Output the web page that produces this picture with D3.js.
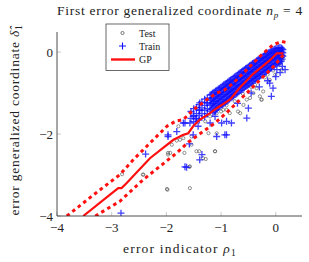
<!DOCTYPE html>
<meta charset="utf-8">
<html>
  <head>
    <style>
     body { margin: 0; background: #fff; }
     text { font-family: "Liberation Serif", "DejaVu Serif", serif; fill: #222; }
     text.tick { font-size: 13px; }
     text.label { font-size: 13.5px; }
     text.title { font-size: 13.5px; }
     text.legend { font-size: 10px; }
    </style>
    <script src="https://d3js.org/d3.v7.min.js"></script>
  </head>
  <body>
    <div id="chart"></div>
    <script type="text/javascript">
     // GP mean and confidence bounds
     var gpMean = [[-3.52,-4.0],[-3.03,-3.48],[-2.88,-3.32],[-2.82,-3.32],[-2.73,-3.20],[-2.30,-2.59],
                   [-2.06,-2.34],[-1.87,-2.14],[-1.69,-2.02],[-1.60,-1.98],[-1.51,-1.81],[-1.39,-1.65],
                   [-1.20,-1.49],[-1.08,-1.37],[-0.84,-1.16],[-0.65,-0.86],[-0.41,-0.53],[-0.10,-0.19],
                   [0.02,-0.03],[0.14,-0.03]];
     var gpUpper = [[-3.82,-4.0],[-3.30,-3.45],[-2.85,-2.99],[-2.60,-2.62],[-2.30,-2.22],[-1.99,-1.81],
                    [-1.82,-1.68],[-1.69,-1.65],[-1.51,-1.41],[-1.26,-1.16],[-1.08,-1.00],[-0.93,-0.92],
                    [-0.78,-0.76],[-0.59,-0.51],[-0.44,-0.31],[-0.26,-0.07],[-0.05,0.18],[0.11,0.26],[0.20,0.23]];
     var gpLower = [[-3.30,-4.0],[-2.85,-3.64],[-2.42,-3.11],[-2.12,-2.79],[-1.81,-2.46],[-1.60,-2.20],
                    [-1.33,-1.94],[-1.11,-1.73],[-0.90,-1.48],[-0.65,-1.16],[-0.35,-0.76],[-0.04,-0.35],[0.17,-0.02]];

     // Train points (+), the scattered ones
     var trainRho = [-2.83,-1.63,-1.35,-2.38,-1.97,-1.58,-1.08,-0.90,-1.46,-1.66,-1.42,-1.20,-1.11,-0.81,-0.53,-0.50,
                     -0.11,-0.05,-0.08,0.00,0.02,0.17,-1.14,-1.39,-1.26,-0.93,-1.51,-1.66,-1.39,-0.99,-0.90,-1.81,
                     -1.69,-1.57,-1.97,-1.51,-1.39,-0.70,-0.45,-0.30,-0.15,0.08,0.12];
     var trainDelta = [-3.93,-2.81,-2.50,-2.49,-2.06,-2.24,-2.06,-2.02,-1.63,-1.73,-1.81,-1.73,-1.57,-1.73,-1.61,-1.37,
                       -0.76,-0.88,-1.08,-0.60,-0.43,-0.43,-1.20,-1.24,-1.24,-2.02,-2.02,-2.80,-2.63,-1.73,-1.69,-1.94,
                       -1.73,-1.73,-2.02,-1.57,-1.41,-1.25,-1.00,-0.85,-0.70,-0.50,-0.35];

     // Train points (+), the dense band along the diagonal
     var bandRho = [-1.55,-1.55,-1.50,-1.50,-1.50,-1.45,-1.45,-1.45,-1.40,-1.40,-1.40,-1.40,-1.35,-1.35,-1.35,
                    -1.30,-1.30,-1.30,-1.30,-1.25,-1.25,-1.25,-1.25,-1.20,-1.20,-1.20,-1.20,
                    -1.15,-1.15,-1.15,-1.15,-1.15,-1.10,-1.10,-1.10,-1.10,-1.10,-1.05,-1.05,-1.05,-1.05,-1.05,
                    -1.00,-1.00,-1.00,-1.00,-1.00,-0.95,-0.95,-0.95,-0.95,-0.95,-0.90,-0.90,-0.90,-0.90,-0.90,
                    -0.85,-0.85,-0.85,-0.85,-0.85,-0.80,-0.80,-0.80,-0.80,-0.80,-0.75,-0.75,-0.75,-0.75,-0.75,
                    -0.70,-0.70,-0.70,-0.70,-0.70,-0.65,-0.65,-0.65,-0.65,-0.65,-0.60,-0.60,-0.60,-0.60,-0.60,
                    -0.55,-0.55,-0.55,-0.55,-0.55,-0.50,-0.50,-0.50,-0.50,-0.50,-0.45,-0.45,-0.45,-0.45,-0.45,
                    -0.40,-0.40,-0.40,-0.40,-0.40,-0.35,-0.35,-0.35,-0.35,-0.35,-0.30,-0.30,-0.30,-0.30,-0.30,
                    -0.25,-0.25,-0.25,-0.25,-0.25,-0.20,-0.20,-0.20,-0.20,-0.20,-0.15,-0.15,-0.15,-0.15,-0.15,
                    -0.10,-0.10,-0.10,-0.10,-0.10,-0.05,-0.05,-0.05,-0.05,-0.05,0.00,0.00,0.00,0.00,0.00,
                    0.05,0.05,0.05,0.05,0.05,0.10,0.10,0.10,0.10,0.10,0.13,0.13,0.13,
                    -1.175,-1.175,-1.175,-1.175,-1.125,-1.125,-1.125,-1.125,-1.125,-1.075,-1.075,-1.075,-1.075,-1.075,
                    -1.025,-1.025,-1.025,-1.025,-1.025,-0.975,-0.975,-0.975,-0.975,-0.975,-0.925,-0.925,-0.925,-0.925,-0.925,
                    -0.875,-0.875,-0.875,-0.875,-0.875,-0.825,-0.825,-0.825,-0.825,-0.825,-0.775,-0.775,-0.775,-0.775,-0.775,
                    -0.725,-0.725,-0.725,-0.725,-0.725,-0.675,-0.675,-0.675,-0.675,-0.675,-0.625,-0.625,-0.625,-0.625,-0.625,
                    -0.575,-0.575,-0.575,-0.575,-0.575,-0.525,-0.525,-0.525,-0.525,-0.525,-0.475,-0.475,-0.475,-0.475,-0.475,
                    -0.425,-0.425,-0.425,-0.425,-0.425,-0.375,-0.375,-0.375,-0.375,-0.375,-0.325,-0.325,-0.325,-0.325,-0.325,
                    -0.275,-0.275,-0.275,-0.275,-0.275,-0.225,-0.225,-0.225,-0.225,-0.225,-0.175,-0.175,-0.175,-0.175,-0.175,
                    -0.125,-0.125,-0.125,-0.125,-0.125,-0.075,-0.075,-0.075,-0.075,-0.075,-0.025,-0.025,-0.025,-0.025,-0.025,
                    0.025,0.025,0.025,0.025,0.025,0.075,0.075,0.075,0.075,0.075,0.115,0.115,0.115,0.115];
     var bandDelta = [-1.45,-1.62,-1.38,-1.55,-1.70,-1.35,-1.50,-1.62,-1.28,-1.42,-1.55,-1.66,-1.22,-1.36,-1.50,
                      -1.15,-1.30,-1.42,-1.58,-1.12,-1.24,-1.38,-1.50,-1.05,-1.18,-1.30,-1.44,
                      -1.00,-1.12,-1.25,-1.36,-1.48,-0.95,-1.06,-1.18,-1.30,-1.42,-0.90,-1.02,-1.13,-1.25,-1.35,
                      -0.86,-0.97,-1.08,-1.19,-1.30,-0.80,-0.91,-1.03,-1.14,-1.26,-0.76,-0.86,-0.97,-1.08,-1.20,
                      -0.70,-0.81,-0.92,-1.03,-1.15,-0.66,-0.77,-0.88,-0.98,-1.10,-0.60,-0.71,-0.82,-0.93,-1.04,
                      -0.56,-0.67,-0.78,-0.89,-1.00,-0.50,-0.61,-0.72,-0.83,-0.94,-0.46,-0.57,-0.68,-0.79,-0.90,
                      -0.40,-0.51,-0.62,-0.73,-0.84,-0.36,-0.47,-0.58,-0.69,-0.80,-0.31,-0.42,-0.53,-0.64,-0.75,
                      -0.26,-0.37,-0.48,-0.59,-0.70,-0.21,-0.32,-0.43,-0.54,-0.65,-0.16,-0.27,-0.38,-0.49,-0.60,
                      -0.12,-0.22,-0.33,-0.44,-0.55,-0.07,-0.17,-0.28,-0.39,-0.50,-0.03,-0.13,-0.23,-0.34,-0.45,
                      0.01,-0.08,-0.18,-0.29,-0.40,0.05,-0.04,-0.13,-0.24,-0.35,0.08,0.00,-0.09,-0.19,-0.30,
                      0.10,0.02,-0.06,-0.15,-0.26,0.10,0.03,-0.05,-0.13,-0.22,0.06,-0.02,-0.10,
                      -1.03,-1.15,-1.27,-1.40,-0.98,-1.09,-1.21,-1.33,-1.45,-0.93,-1.04,-1.15,-1.27,-1.39,
                      -0.88,-0.99,-1.10,-1.22,-1.33,-0.83,-0.94,-1.05,-1.16,-1.28,-0.78,-0.89,-1.00,-1.11,-1.23,
                      -0.73,-0.84,-0.95,-1.06,-1.18,-0.68,-0.79,-0.90,-1.01,-1.12,-0.63,-0.74,-0.85,-0.96,-1.07,
                      -0.58,-0.69,-0.80,-0.91,-1.02,-0.53,-0.64,-0.75,-0.86,-0.97,-0.48,-0.59,-0.70,-0.81,-0.92,
                      -0.43,-0.54,-0.65,-0.76,-0.87,-0.38,-0.49,-0.60,-0.71,-0.82,-0.33,-0.44,-0.55,-0.66,-0.77,
                      -0.28,-0.39,-0.50,-0.61,-0.72,-0.24,-0.35,-0.46,-0.57,-0.68,-0.19,-0.30,-0.41,-0.52,-0.63,
                      -0.14,-0.25,-0.36,-0.47,-0.58,-0.10,-0.20,-0.31,-0.42,-0.53,-0.05,-0.15,-0.26,-0.37,-0.48,
                      -0.01,-0.11,-0.21,-0.32,-0.43,0.03,-0.06,-0.16,-0.27,-0.38,0.07,-0.02,-0.11,-0.21,-0.32,
                      0.09,0.01,-0.08,-0.17,-0.28,0.11,0.03,-0.05,-0.14,-0.24,0.08,0.00,-0.08,-0.17];

     // Test points (small grey circles)
     var testRho = [-1.99,-1.57,-2.42,-1.57,-1.28,-1.11,-1.40,-1.97,-1.67,-1.54,-0.65,-0.26,-0.41,-0.90,
                    -2.81,-2.43,-1.98,-1.97,-1.81,-0.11,-0.01,-0.23,-0.29,-0.35,-0.47,-0.26,0.11,0.08,0.14,
                    -0.96,-0.84,-0.69,-0.59,-1.08,-1.20,-0.53,-1.29,-1.23,-1.08,-1.45,-1.33,-1.11,-1.54,-1.69,
                    -1.58,-1.75,-1.78,-1.90,-1.93,-0.75,-0.60,-0.45,-0.20,-0.05,0.05,0.12,-0.90,-1.00,-0.38,-0.15];
     var testDelta = [-3.34,-3.32,-2.99,-2.79,-2.61,-2.42,-2.42,-2.50,-2.46,-2.06,-1.49,-1.16,-1.00,-1.41,
                      -2.98,-2.99,-3.36,-2.46,-2.16,-0.68,-0.55,-0.96,-1.08,-0.88,-1.12,-1.16,-0.43,-0.27,-0.11,
                      -1.41,-1.49,-1.45,-1.29,-1.49,-1.57,-1.16,-1.69,-1.98,-1.98,-2.42,-2.59,-2.42,-2.26,-2.10,
                      -2.80,-2.14,-1.81,-2.26,-2.46,-1.20,-1.02,-0.85,-0.62,-0.45,-0.30,-0.20,-1.30,-1.45,-0.80,-0.55];

     var xTicks = [-4, -3, -2, -1, 0],
         yTicks = [-4, -2, 0];

     var width = 309, height = 262,
         margin = { top: 32, right: 7, bottom: 46, left: 57 };

     var svg = d3.select("#chart").append("svg")
                 .attr("width", width)
                 .attr("height", height);

     var x = d3.scaleLinear().domain([-4, 0.48]).range([margin.left, width - margin.right]);
     var y = d3.scaleLinear().domain([-4, 0.49]).range([height - margin.bottom, margin.top]);

     // stretch a text to the width it has in the picture
     function fit(sel, target) {
       var node = sel.node(),
           len = node.getComputedTextLength(),
           n = node.textContent.length;
       sel.style("letter-spacing", ((target - len) / n) + "px");
     }

     svg.append("clipPath").attr("id", "clip")
        .append("rect")
        .attr("x", margin.left).attr("y", margin.top)
        .attr("width", width - margin.right - margin.left)
        .attr("height", height - margin.bottom - margin.top);

     // ticks (light grey, pointing inwards)
     svg.selectAll(".xtick").data(xTicks).enter().append("line")
        .attr("x1", function(d) { return x(d); }).attr("x2", function(d) { return x(d); })
        .attr("y1", y(-4)).attr("y2", y(-4) - 4)
        .style("stroke", "#bbb").style("stroke-width", 0.8);
     svg.selectAll(".ytick").data(yTicks).enter().append("line")
        .attr("x1", x(-4)).attr("x2", x(-4) + 4)
        .attr("y1", function(d) { return y(d); }).attr("y2", function(d) { return y(d); })
        .style("stroke", "#bbb").style("stroke-width", 0.8);

     svg.selectAll(".xlab").data(xTicks).enter().append("text")
        .attr("class", "tick")
        .attr("x", function(d) { return x(d); })
        .attr("y", y(-4) + 15.5)
        .style("text-anchor", "middle")
        .text(function(d) { return d < 0 ? "\u2212" + (-d) : d; });
     svg.selectAll(".ylab").data(yTicks).enter().append("text")
        .attr("class", "tick")
        .attr("x", x(-4) - 4)
        .attr("y", function(d) { return y(d) + 4.5; })
        .style("text-anchor", "end")
        .text(function(d) { return d < 0 ? "\u2212" + (-d) : d; });

     var plot = svg.append("g").attr("clip-path", "url(#clip)");

     var testData = testRho.map(function(d, i) { return [d, testDelta[i]]; });
     var trainData = trainRho.map(function(d, i) { return [d, trainDelta[i]]; })
                       .concat(bandRho.map(function(d, i) { return [d, bandDelta[i]]; }));

     plot.selectAll(".test").data(testData).enter().append("circle")
         .attr("cx", function(d) { return x(d[0]); })
         .attr("cy", function(d) { return y(d[1]); })
         .attr("r", 1.6)
         .style("fill", "none")
         .style("stroke", "#555")
         .style("stroke-width", 0.8)
         .style("opacity", 0.8);

     var plus = "M-3.5,0H3.5M0,-3.5V3.5";
     plot.selectAll(".train").data(trainData).enter().append("path")
         .attr("d", plus)
         .attr("transform", function(d) { return "translate(" + x(d[0]) + "," + y(d[1]) + ")"; })
         .style("fill", "none")
         .style("stroke", "#1010ff")
         .style("stroke-width", 1.3)
         .style("opacity", 0.8);

     var line = d3.line().x(function(d) { return x(d[0]); }).y(function(d) { return y(d[1]); });

     plot.append("path").datum(gpUpper).attr("d", line)
         .style("fill", "none").style("stroke", "#ff1010").style("stroke-width", 3)
         .style("stroke-dasharray", "3.5,3.5");
     plot.append("path").datum(gpLower).attr("d", line)
         .style("fill", "none").style("stroke", "#ff1010").style("stroke-width", 3)
         .style("stroke-dasharray", "3.5,3.5");
     plot.append("path").datum(gpMean).attr("d", line)
         .style("fill", "none").style("stroke", "#ff1010").style("stroke-width", 2.2);

     // axis lines (left and bottom only)
     svg.append("line")
        .attr("x1", x(-4)).attr("x2", x(-4)).attr("y1", y(-4)).attr("y2", margin.top)
        .style("stroke", "#222").style("stroke-width", 0.8);
     svg.append("line")
        .attr("x1", x(-4)).attr("x2", width - margin.right).attr("y1", y(-4)).attr("y2", y(-4))
        .style("stroke", "#222").style("stroke-width", 0.8);

     // legend
     var lg = svg.append("g").attr("transform", "translate(106,24)");
     lg.append("rect").attr("width", 63).attr("height", 46.5)
       .style("fill", "#fff").style("stroke", "#444").style("stroke-width", 0.8);
     lg.append("circle").attr("cx", 16.5).attr("cy", 9).attr("r", 1.6)
       .style("fill", "none").style("stroke", "#555").style("stroke-width", 0.8);
     lg.append("path").attr("d", plus).attr("transform", "translate(16.5,22)")
       .style("fill", "none").style("stroke", "#1010ff").style("stroke-width", 1.1);
     lg.append("line").attr("x1", 5).attr("x2", 29).attr("y1", 35.5).attr("y2", 35.5)
       .style("stroke", "#ff1010").style("stroke-width", 2.4);
     var legendNames = ["Test", "Train", "GP"];
     lg.selectAll(".legend").data(legendNames).enter().append("text")
       .attr("class", "legend")
       .attr("x", 33)
       .attr("y", function(d, i) { return 12.5 + i * 13; })
       .text(function(d) { return d; });

     // title
     var t = svg.append("text").attr("class", "title")
                .attr("x", 180).attr("y", 15).style("text-anchor", "middle");
     t.append("tspan").text("First error generalized coordinate ");
     t.append("tspan").style("font-style", "italic").text("n");
     t.append("tspan").attr("dy", 2.5).style("font-size", "9px").style("font-style", "italic").text("p");
     t.append("tspan").attr("dy", -2.5).text(" = 4");
     fit(t, 246);

     // x label
     var xl = svg.append("text").attr("class", "label")
                 .attr("x", 180).attr("y", 253).style("text-anchor", "middle");
     xl.append("tspan").text("error indicator ");
     xl.append("tspan").style("font-style", "italic").text("\u03c1");
     xl.append("tspan").attr("dy", 3).style("font-size", "9.5px").text("1");
     fit(xl, 114);

     // y label
     var yl = svg.append("text").attr("class", "label")
                 .attr("transform", "translate(19,120) rotate(-90)")
                 .style("text-anchor", "middle");
     yl.append("tspan").text("error generalized coordinate ");
     yl.append("tspan").style("font-style", "italic").text("\u03b4\u0302");
     yl.append("tspan").attr("dy", 3).style("font-size", "9.5px").text("1");
     fit(yl, 192);
    </script>
  </body>
</html>
